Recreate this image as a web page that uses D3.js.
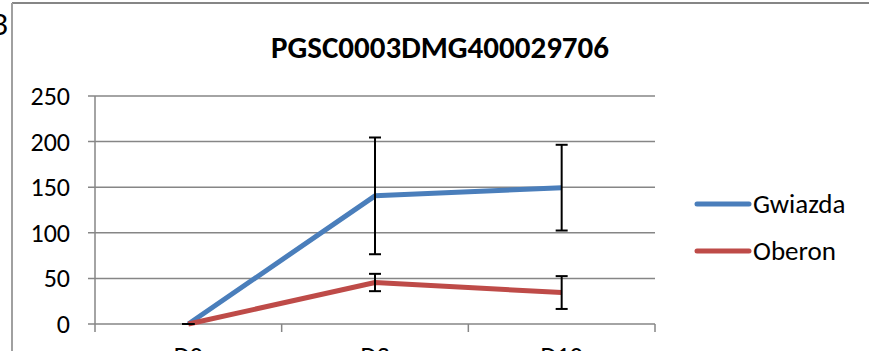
<!DOCTYPE html>
<html><head><meta charset="utf-8">
<script src="https://cdn.jsdelivr.net/npm/d3@7"></script>
<style>html,body{margin:0;padding:0;background:#fff;overflow:hidden}</style>
</head><body>
<script>
const categories = ["D0", "D3", "D10"];
const gwiazda = [0, 140.5, 149.5];
const gwiazdaErr = [0, 64, 47];
const oberon = [0, 45.5, 34.5];
const oberonErr = [0, 9.5, 18];
const yTicks = [0, 50, 100, 150, 200, 250];
const seriesNames = ["Gwiazda", "Oberon"];
const colors = ["#4A7EBB", "#BE4B48"];

const W = 869, H = 351;
const svg = d3.select("body").append("svg").attr("width", W).attr("height", H);
const font = "Carlito, 'Liberation Sans', Arial, sans-serif";

// outer frame fragments
svg.append("line").attr("x1", 12).attr("x2", W).attr("y1", 3).attr("y2", 3).attr("stroke", "#868686").attr("stroke-width", 2);
svg.append("line").attr("x1", 12).attr("x2", 12).attr("y1", 3).attr("y2", H).attr("stroke", "#A0A0A0").attr("stroke-width", 2);
svg.append("text").attr("x", 8).attr("y", 35).attr("text-anchor", "end").attr("font-family", font).attr("font-size", 33).text("3");

const x = d3.scaleBand().domain(categories).range([95, 655]);
const y = d3.scaleLinear().domain([0, 250]).range([324, 96]);

// gridlines
svg.append("g").selectAll("line").data(yTicks).join("line")
  .attr("x1", 88).attr("x2", 655).attr("y1", d => y(d)).attr("y2", d => y(d))
  .attr("stroke", "#868686").attr("stroke-width", 1.5);
// y axis line
svg.append("line").attr("x1", 95).attr("x2", 95).attr("y1", y(250)).attr("y2", y(0) + 8).attr("stroke", "#868686").attr("stroke-width", 1.5);
// x ticks
const xt = categories.map(c => x(c) + x.bandwidth());
svg.append("g").selectAll("line").data(xt).join("line")
  .attr("x1", d => d).attr("x2", d => d).attr("y1", y(0)).attr("y2", y(0) + 8)
  .attr("stroke", "#868686").attr("stroke-width", 1.5);

// y labels
svg.append("g").selectAll("text").data(yTicks).join("text")
  .attr("x", 70).attr("y", d => y(d) + 9).attr("text-anchor", "end")
  .attr("font-family", font).attr("font-size", 26).attr("fill", "#000").text(d => d);
// x labels
svg.append("g").selectAll("text").data(categories).join("text")
  .attr("x", d => x(d) + x.bandwidth() / 2).attr("y", 365).attr("text-anchor", "middle")
  .attr("font-family", font).attr("font-size", 26).text(d => d);

// title
svg.append("text").attr("x", 440).attr("y", 58).attr("text-anchor", "middle")
  .attr("font-family", font).attr("font-weight", "bold").attr("font-size", 31).text("PGSC0003DMG400029706");

const cx = c => x(c) + x.bandwidth() / 2;
const series = [gwiazda, oberon];
const errs = [gwiazdaErr, oberonErr];
const line = d3.line().x((d, i) => cx(categories[i])).y(d => y(d));

series.forEach((s, k) => {
  svg.append("path").datum(s).attr("d", line).attr("fill", "none")
    .attr("stroke", colors[k]).attr("stroke-width", 5).attr("stroke-linejoin", "round");
});
// error bars (drawn after lines)
series.forEach((s, k) => {
  const g = svg.append("g").attr("stroke", "#000").attr("stroke-width", 2);
  s.forEach((v, i) => {
    const px = cx(categories[i]);
    const e = errs[k][i];
    const t = y(v + e), b = y(v - e);
    g.append("line").attr("x1", px).attr("x2", px).attr("y1", t).attr("y2", b);
    g.append("line").attr("x1", px - 6).attr("x2", px + 6).attr("y1", t).attr("y2", t);
    g.append("line").attr("x1", px - 6).attr("x2", px + 6).attr("y1", b).attr("y2", b);
  });
});
// legend
seriesNames.forEach((n, k) => {
  const ly = 204 + k * 47;
  svg.append("line").attr("x1", 697).attr("x2", 749).attr("y1", ly).attr("y2", ly)
    .attr("stroke", colors[k]).attr("stroke-width", 5).attr("stroke-linecap", "round");
  svg.append("text").attr("x", 753).attr("y", ly + 9).attr("font-family", font).attr("font-size", 27).text(n);
});
</script>
</body></html>
